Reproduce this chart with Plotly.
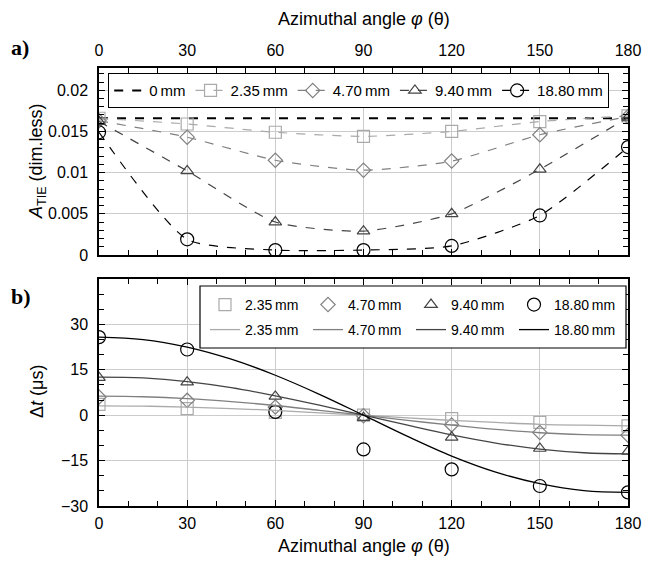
import plotly.graph_objects as go

angles = [0, 30, 60, 90, 120, 150, 180]

# Panel a) : A_TIE values
a_0mm = [0.0166, 0.0166, 0.0166, 0.0166, 0.0166, 0.0166, 0.0166]
a_235 = [0.0166, 0.0159, 0.0149, 0.0144, 0.0150, 0.0162, 0.0169]
a_470 = [0.0163, 0.0143, 0.0115, 0.0103, 0.0114, 0.0146, 0.0168]
a_940 = [0.0162, 0.0102, 0.0040, 0.0029, 0.0050, 0.0104, 0.0167]
a_1880 = [0.0149, 0.0019, 0.0006, 0.0006, 0.0011, 0.0048, 0.0131]

# Panel b) : measured delays
b_235 = [3.6, 2.2, 0.9, 0.0, -1.1, -2.4, -3.5]
b_470 = [6.0, 4.9, 2.7, -0.2, -3.2, -5.7, -6.6]
b_940 = [12.4, 10.9, 6.2, -0.8, -7.3, -11.0, -12.0]
b_1880 = [25.8, 21.7, 1.1, -11.3, -17.9, -23.4, -25.5]

# Panel b) : fitted curves
fit_angles = [0, 15, 30, 45, 60, 75, 90, 105, 120, 135, 150, 165, 180]
f_235 = [3.1, 3.0, 2.7, 2.2, 1.6, 0.8, 0.0, -0.9, -1.7, -2.4, -3.0, -3.3, -3.5]
f_470 = [6.3, 6.1, 5.5, 4.5, 3.2, 1.6, 0.0, -1.7, -3.3, -4.7, -5.8, -6.4, -6.6]
f_940 = [12.6, 12.3, 11.1, 9.1, 6.4, 3.3, 0.0, -3.3, -6.5, -9.2, -11.2, -12.4, -12.8]
f_1880 = [25.8, 25.0, 22.5, 18.5, 13.2, 6.9, 0.0, -7.0, -13.5, -18.8, -22.6, -24.9, -25.5]

labels = ["2.35\u2009mm", "4.70\u2009mm", "9.40\u2009mm", "18.80\u2009mm"]
colors = ["#aaaaaa", "#808080", "#444444", "#000000"]
symbols = ["square-open", "diamond-open", "triangle-up-open", "circle-open"]
msizes = [12, 11, 11, 13]

FONT = "Liberation Sans, Arial, Helvetica, sans-serif"

fig = go.Figure()

# ---- panel a
fig.add_trace(go.Scatter(x=angles, y=a_0mm, mode="lines", name="0\u2009mm",
                         line=dict(color="black", dash="dash", width=2),
                         xaxis="x", yaxis="y", legend="legend"))
for lab, col, sym, ms, ys in zip(labels, colors, symbols, msizes, [a_235, a_470, a_940, a_1880]):
    fig.add_trace(go.Scatter(x=angles, y=ys, mode="lines+markers", name=lab,
                             line=dict(color=col, dash="dash", width=1.2, shape="spline", smoothing=0.6),
                             marker=dict(symbol=sym, size=ms, color=col, line=dict(width=1.2, color=col)),
                             xaxis="x", yaxis="y", legend="legend"))

# ---- panel b : markers
for lab, col, sym, ms, ys in zip(labels, colors, symbols, msizes, [b_235, b_470, b_940, b_1880]):
    fig.add_trace(go.Scatter(x=angles, y=ys, mode="markers", name=lab,
                             marker=dict(symbol=sym, size=ms, color=col, line=dict(width=1.2, color=col)),
                             xaxis="x2", yaxis="y2", legend="legend2"))
# ---- panel b : fitted curves
for lab, col, ys in zip(labels, colors, [f_235, f_470, f_940, f_1880]):
    fig.add_trace(go.Scatter(x=fit_angles, y=ys, mode="lines", name=lab,
                             line=dict(color=col, width=1.3, shape="spline"),
                             xaxis="x2", yaxis="y2", legend="legend3"))

axis_common = dict(showline=True, linecolor="black", linewidth=1.5, mirror="allticks",
                   ticks="inside", ticklen=6, tickcolor="black", showgrid=True,
                   gridcolor="#cccccc", gridwidth=1, zeroline=False, automargin=False,
                   tickfont=dict(family=FONT, size=16, color="black"))

W, H = 645, 564
L, R, T, B = 99, 17, 68, 58
pw, ph = W - L - R, H - T - B

def py(px):
    return (H - B - px) / ph

def pxx(px):
    return (px - L) / pw

leg_b = dict(orientation="h", xanchor="left", yanchor="top", bgcolor="rgba(0,0,0,0)",
             borderwidth=0, entrywidth=58, font=dict(family=FONT, size=14))

fig.update_layout(
    width=W, height=H,
    margin=dict(l=L, r=R, t=T, b=B, autoexpand=False),
    paper_bgcolor="white", plot_bgcolor="white",
    font=dict(family=FONT, size=14, color="black"),
    xaxis=dict(axis_common, domain=[0, 1], range=[0, 180], side="top", anchor="y",
               tickmode="array", tickvals=angles, ticklabelstandoff=4,
               minor=dict(dtick=10, tick0=0, ticks="inside", ticklen=5, tickcolor="black", showgrid=False)),
    yaxis=dict(axis_common, domain=[py(255), py(68)], range=[0, 0.0227], anchor="x",
               tickvals=[0, 0.005, 0.01, 0.015, 0.02], ticktext=["0", "0.005", "0.01", "0.015", "0.02"],
               ticklabelstandoff=6,
               minor=dict(dtick=0.001, tick0=0, ticks="inside", ticklen=5, tickcolor="black", showgrid=False)),
    xaxis2=dict(axis_common, domain=[0, 1], range=[0, 180], side="bottom", anchor="y2",
                tickmode="array", tickvals=angles, ticklabelstandoff=2,
                minor=dict(dtick=10, tick0=0, ticks="inside", ticklen=5, tickcolor="black", showgrid=False)),
    yaxis2=dict(axis_common, domain=[0, py(279)], range=[-30, 45], anchor="x2",
                tickvals=[-30, -15, 0, 15, 30], ticklabelstandoff=6,
                minor=dict(dtick=5, tick0=0, ticks="inside", ticklen=5, tickcolor="black", showgrid=False)),
    legend=dict(orientation="h", x=pxx(108), y=py(73), xanchor="left", yanchor="top",
                bgcolor="white", bordercolor="black", borderwidth=1.2,
                font=dict(family=FONT, size=15)),
    legend2=dict(leg_b, x=pxx(205), y=py(289)),
    legend3=dict(leg_b, x=pxx(205), y=py(314)),
    showlegend=True,
    shapes=[dict(type="rect", xref="paper", yref="paper",
                 x0=pxx(200), x1=pxx(626), y0=py(348), y1=py(286),
                 fillcolor="white", line=dict(color="black", width=1.2), layer="above")],
)

ann = [
    dict(text="Azimuthal angle <i>φ</i> (θ)", x=0.5, y=py(19), xref="paper", yref="paper",
         xanchor="center", yanchor="middle", showarrow=False, font=dict(family=FONT, size=18)),
    dict(text="Azimuthal angle <i>φ</i> (θ)", x=0.5, y=py(546), xref="paper", yref="paper",
         xanchor="center", yanchor="middle", showarrow=False, font=dict(family=FONT, size=18)),
    dict(text="<i>A</i><sub>TIE</sub> (dim.less)", x=pxx(37), y=py(161), xref="paper", yref="paper",
         xanchor="center", yanchor="middle", showarrow=False, textangle=-90, font=dict(family=FONT, size=18)),
    dict(text="Δ<i>t</i> (μs)", x=pxx(37), y=py(392), xref="paper", yref="paper",
         xanchor="center", yanchor="middle", showarrow=False, textangle=-90, font=dict(family=FONT, size=18)),
    dict(text="<b>a)</b>", x=pxx(9), y=py(47), xref="paper", yref="paper", xanchor="left",
         yanchor="middle", showarrow=False, font=dict(family="Liberation Serif, Times New Roman, serif", size=22)),
    dict(text="<b>b)</b>", x=pxx(9), y=py(296), xref="paper", yref="paper", xanchor="left",
         yanchor="middle", showarrow=False, font=dict(family="Liberation Serif, Times New Roman, serif", size=22)),
]
fig.update_layout(annotations=ann)

fig.write_html("out.html")
